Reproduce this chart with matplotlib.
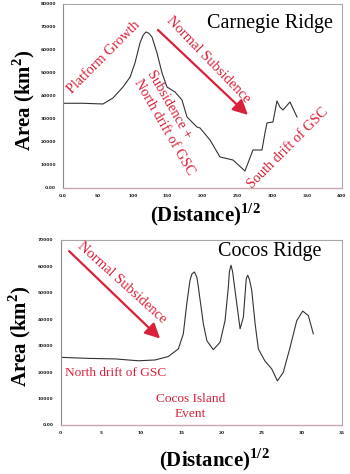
import matplotlib
matplotlib.use("Agg")
import matplotlib.pyplot as plt

plt.rcParams["mathtext.fontset"] = "custom"
plt.rcParams["mathtext.rm"] = "Liberation Serif"
plt.rcParams["mathtext.bf"] = "Liberation Serif:bold"

# Carnegie Ridge: area vs sqrt(distance)
carnegie_x = [0, 28.7, 57.3, 71.7, 86, 96.3, 103.2, 110.4, 115, 119, 123, 127.6,
              134.8, 142, 149.1, 160.6, 170.6, 177.8, 192.1, 196.4, 210.8, 225.1,
              243.7, 260.9, 272.4, 285.3, 289.6, 292.5, 301.1, 306.8, 311.1, 315.4,
              325.5, 335.5]
carnegie_y = [36830, 36830, 36520, 39130, 43910, 48260, 54350, 63040, 66500, 67830,
              67300, 65650, 58700, 50000, 43910, 41740, 38260, 30870, 26520, 26090,
              20870, 13480, 12170, 7390, 16520, 16520, 23910, 28260, 28700, 37830,
              35220, 33910, 37390, 30870]

# Cocos Ridge: area vs sqrt(distance)
cocos_x = [0, 3.46, 6.78, 9.68, 11.75, 13.4, 14.65, 15.27, 15.7, 16.1, 16.35, 16.64,
           16.95, 17.14, 17.76, 18.2, 19.0, 19.84, 20.46, 20.87, 21.0, 21.2, 21.4,
           21.7, 22.33, 22.74, 23.1, 23.28, 23.5, 23.78, 24.2, 24.6, 25.4, 26.27,
           26.97, 27.7, 28.55, 29.38, 30.12, 30.82, 31.44]
cocos_y = [25600, 25200, 25000, 24300, 24600, 25900, 28800, 34500, 45900, 54750,
           57200, 57900, 56000, 52200, 38300, 31900, 28500, 31300, 39500, 52200,
           58000, 60450, 58000, 50950, 36400, 40800, 55500, 56650, 55000, 50950,
           38300, 28800, 24300, 21200, 16700, 19900, 29400, 39500, 43100, 41400,
           34500]

top_xticks = [0, 50, 100, 150, 200, 250, 300, 350, 400]
top_xticklabels = ["0.0", "50", "100", "150", "200", "250", "300", "350", "400"]
top_yticks = [0, 10000, 20000, 30000, 40000, 50000, 60000, 70000, 80000]
top_yticklabels = ["0.00", "10000", "20000", "30000", "40000", "50000", "60000",
                   "70000", "80000"]
bot_xticks = [0, 5, 10, 15, 20, 25, 30, 35]
bot_xticklabels = ["0", "5", "10", "15", "20", "25", "30", "35"]
bot_yticks = [0, 10000, 20000, 30000, 40000, 50000, 60000, 70000]
bot_yticklabels = ["0.00", "10000", "20000", "30000", "40000", "50000", "60000",
                   "70000"]

RED = "#d9213a"
SERIF = "Liberation Serif"

fig = plt.figure(figsize=(3.5, 4.74), dpi=100)
fig.patch.set_facecolor("white")

ax1 = fig.add_axes([0.18, 0.6034, 0.797, 0.3882])
ax2 = fig.add_axes([0.173, 0.1034, 0.804, 0.3903])


def style(ax, xt, xl, yt, yl, xlim, ylim):
    ax.set_xlim(*xlim)
    ax.set_ylim(*ylim)
    ax.set_xticks(xt)
    ax.set_xticklabels(xl)
    ax.set_yticks(yt)
    ax.set_yticklabels(yl)
    ax.tick_params(length=0, labelsize=3.2, colors="#222222")
    ax.tick_params(axis="x", pad=4)
    ax.tick_params(axis="y", pad=5)
    for lab in ax.get_xticklabels() + ax.get_yticklabels():
        lab.set_fontweight("bold")
    for s in ["top", "right"]:
        ax.spines[s].set_color("#a8a8a8")
        ax.spines[s].set_linewidth(0.8)
    ax.spines["left"].set_color("#8a8a8a")
    ax.spines["left"].set_linewidth(0.8)
    ax.spines["bottom"].set_color("#c8a8ae")
    ax.spines["bottom"].set_linewidth(1.0)


style(ax1, top_xticks, top_xticklabels, top_yticks, top_yticklabels, (0, 400), (0, 80000))
style(ax2, bot_xticks, bot_xticklabels, bot_yticks, bot_yticklabels, (0, 35), (0, 70000))

ax1.plot(carnegie_x, carnegie_y, color="#333333", lw=0.8)
ax2.plot(cocos_x, cocos_y, color="#333333", lw=0.8)

# titles inside the panels
ax1.text(296.8, 71300, "Carnegie Ridge", family=SERIF, fontsize=14.5,
         ha="center", va="center", color="black")
ax2.text(26.06, 65800, "Cocos Ridge", family=SERIF, fontsize=14.5,
         ha="center", va="center", color="black")

# Carnegie annotations
ax1.text(58.8, 56740, "Platform Growth", family=SERIF, fontsize=10.3, color=RED,
         rotation=45, ha="center", va="center", rotation_mode="anchor")
ax1.text(208.6, 55650, "Normal Subsidence", family=SERIF, fontsize=10.5, color=RED,
         rotation=-46, ha="center", va="center", rotation_mode="anchor")
ax1.annotate("", xy=(265.2, 31740), xytext=(136.2, 68700),
             arrowprops=dict(arrowstyle="-|>,head_length=0.9,head_width=0.45",
                             color=RED, lw=1.6, shrinkA=0, shrinkB=0))
ax1.text(151.7, 36520, "Subsidence +", family=SERIF, fontsize=10.3, color=RED,
         rotation=-60, ha="center", va="center", rotation_mode="anchor")
ax1.text(145.5, 26300, "North drift of GSC", family=SERIF, fontsize=10.3, color=RED,
         rotation=-60, ha="center", va="center", rotation_mode="anchor")
ax1.text(321.9, 17170, "South drift of GSC", family=SERIF, fontsize=10.3, color=RED,
         rotation=45, ha="center", va="center", rotation_mode="anchor")

# Cocos annotations
ax2.text(7.59, 53800, "Normal Subsidence", family=SERIF, fontsize=10.5, color=RED,
         rotation=-42, ha="center", va="center", rotation_mode="anchor")
ax2.annotate("", xy=(12.38, 32700), xytext=(1.06, 65800),
             arrowprops=dict(arrowstyle="-|>,head_length=0.9,head_width=0.45",
                             color=RED, lw=1.6, shrinkA=0, shrinkB=0))
ax2.text(0.56, 19770, "North drift of GSC", family=SERIF, fontsize=9.6, color=RED,
         ha="left", va="center")
ax2.text(16.2, 7040, "Cocos Island\nEvent", family=SERIF, fontsize=9.6, color=RED,
         ha="center", va="center", multialignment="center", linespacing=1.25)

# axis titles
lab_kw = dict(family=SERIF, fontweight="bold", fontsize=15, color="black")
fig.text(24 / 350, 1 - 100 / 474, r"Area (km$^{\mathbf{2}}$)", rotation=90,
         ha="center", va="center", **lab_kw)
fig.text(20 / 350, 1 - 336 / 474, r"Area (km$^{\mathbf{2}}$)", rotation=90,
         ha="center", va="center", **lab_kw)
fig.text(205 / 350, 1 - 215 / 474, r"(Distance)$^{\mathbf{1/2}}$",
         ha="center", va="center", **lab_kw)
fig.text(214 / 350, 1 - 460 / 474, r"(Distance)$^{\mathbf{1/2}}$",
         ha="center", va="center", **lab_kw)

fig.savefig("out.png", dpi=100, facecolor="white")
